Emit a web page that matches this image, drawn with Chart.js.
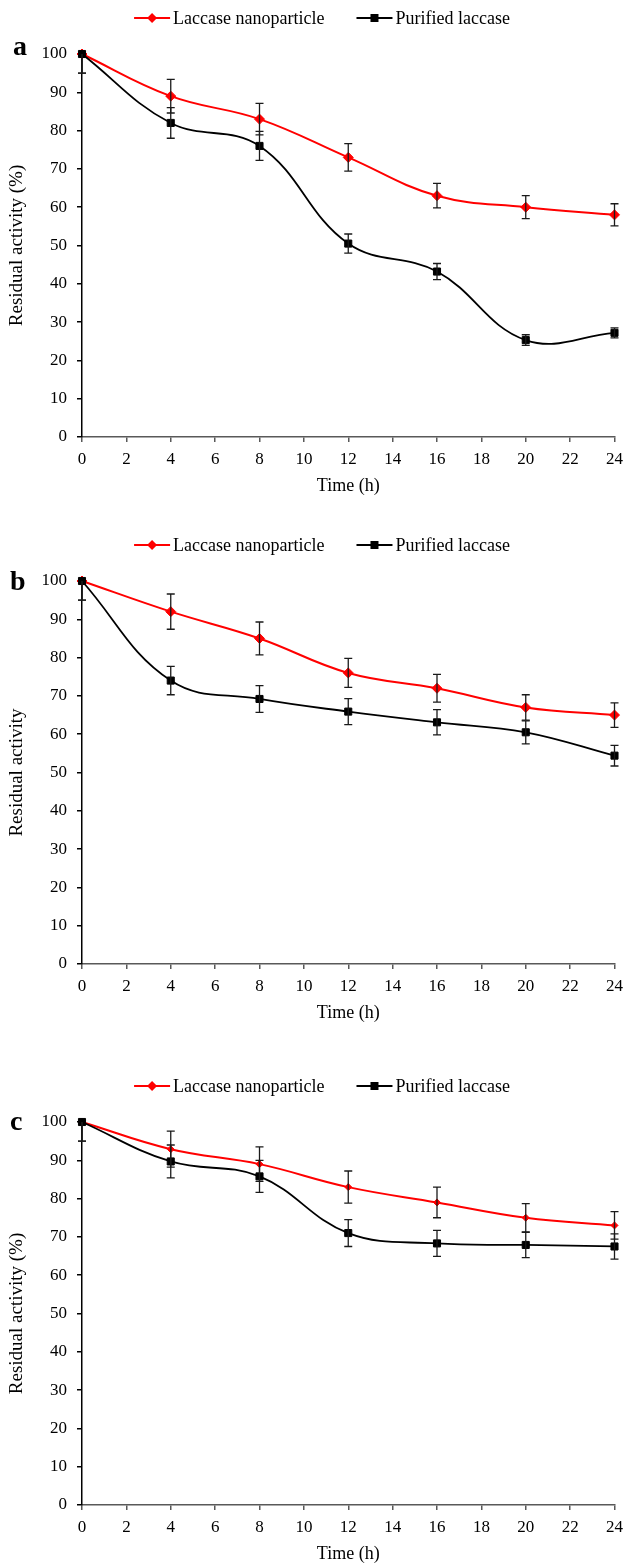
<!DOCTYPE html>
<html>
<head>
<meta charset="utf-8">
<title>Residual activity of laccase</title>
<script src="https://cdn.jsdelivr.net/npm/chart.js@4.4.1/dist/chart.umd.min.js"></script>
<style>
  html, body { margin: 0; padding: 0; background: #fff; overflow: hidden; }
  .panel { position: absolute; left: 0; width: 630px; height: 500px; }
</style>
</head>
<body>
<canvas id="chartA" class="panel" width="630" height="500" style="top:0px"></canvas>
<canvas id="chartB" class="panel" width="630" height="500" style="top:527px"></canvas>
<canvas id="chartC" class="panel" width="630" height="500" style="top:1068px"></canvas>
<script>
// data
const hours = [0, 4, 8, 12, 16, 20, 24];
const timeTicks = [0, 2, 4, 6, 8, 10, 12, 14, 16, 18, 20, 22, 24];
const activityTicks = [0, 10, 20, 30, 40, 50, 60, 70, 80, 90, 100];
const seriesNames = ["Laccase nanoparticle", "Purified laccase"];

const nanoA = [100, 89, 83, 73, 63, 60, 58];
const nanoErrA = [5, 4.4, 4.1, 3.6, 3.2, 3.0, 2.9];
const purA = [100, 82, 76, 50.5, 43.2, 25.3, 27.2];
const purErrA = [5, 4.0, 3.8, 2.5, 2.1, 1.4, 1.3];

const nanoB = [100, 92, 85, 76, 72, 67, 65];
const nanoErrB = [5, 4.6, 4.3, 3.8, 3.6, 3.3, 3.2];
const purB = [100, 74, 69.2, 65.9, 63.1, 60.5, 54.4];
const purErrB = [5, 3.7, 3.5, 3.4, 3.3, 3.0, 2.7];

const nanoC = [100, 92.9, 89, 83, 79, 75, 73];
const nanoErrC = [5, 4.7, 4.5, 4.2, 4.0, 3.7, 3.6];
const purC = [100, 89.7, 85.8, 71, 68.3, 67.9, 67.5];
const purErrC = [5, 4.3, 4.2, 3.5, 3.4, 3.3, 3.3];

const FONT = "'Liberation Serif', 'Times New Roman', serif";
const RED = "#ff0000";
const BLACK = "#000000";

// vertical error bars with caps
const errorBars = {
  id: "errorBars",
  afterDatasetsDraw(chart) {
    const { ctx, chartArea, scales } = chart;
    ctx.save();
    ctx.beginPath();
    ctx.rect(chartArea.left - 8, chartArea.top, chartArea.right - chartArea.left + 16, chartArea.bottom - chartArea.top);
    ctx.clip();
    ctx.strokeStyle = "#1a1a1a";
    ctx.lineWidth = 1.3;
    chart.data.datasets.forEach((ds, i) => {
      const meta = chart.getDatasetMeta(i);
      meta.data.forEach((pt, j) => {
        const v = ds.data[j].y;
        const e = ds.errors[j];
        const top = scales.y.getPixelForValue(v + e);
        const bot = scales.y.getPixelForValue(v - e);
        ctx.beginPath();
        ctx.moveTo(pt.x, top);
        ctx.lineTo(pt.x, bot);
        ctx.moveTo(pt.x - 4, top);
        ctx.lineTo(pt.x + 4, top);
        ctx.moveTo(pt.x - 4, bot);
        ctx.lineTo(pt.x + 4, bot);
        ctx.stroke();
      });
    });
    ctx.restore();
  },
};

// excel style legend: line with marker in the middle
const lineLegend = {
  id: "lineLegend",
  afterDraw(chart) {
    const ctx = chart.ctx;
    const y = 18;
    const lineLen = 36, gap = 3, spacing = 32;
    ctx.save();
    ctx.font = "18px " + FONT;
    ctx.textBaseline = "middle";
    const items = chart.data.datasets.map((ds) => ({ ds, w: ctx.measureText(ds.label).width }));
    const total = items.reduce((s, it) => s + lineLen + gap + it.w, 0) + spacing * (items.length - 1);
    let x = 322 - total / 2;
    items.forEach(({ ds, w }) => {
      ctx.strokeStyle = ds.borderColor;
      ctx.lineWidth = ds.borderWidth;
      ctx.beginPath();
      ctx.moveTo(x, y);
      ctx.lineTo(x + lineLen, y);
      ctx.stroke();
      const cx = x + lineLen / 2;
      ctx.fillStyle = ds.borderColor;
      ctx.beginPath();
      if (ds.pointStyle === "rectRot") {
        const r = 5;
        ctx.moveTo(cx, y - r);
        ctx.lineTo(cx + r, y);
        ctx.lineTo(cx, y + r);
        ctx.lineTo(cx - r, y);
        ctx.closePath();
      } else {
        ctx.rect(cx - 4, y - 4, 8, 8);
      }
      ctx.fill();
      ctx.fillStyle = "#000";
      ctx.fillText(ds.label, x + lineLen + gap, y + 1);
      x += lineLen + gap + w + spacing;
    });
    ctx.restore();
  },
};

// bold panel letter
const panelLetter = {
  id: "panelLetter",
  afterDraw(chart, args, opts) {
    const ctx = chart.ctx;
    ctx.save();
    ctx.font = "bold 28px " + FONT;
    ctx.fillStyle = "#000";
    ctx.textBaseline = "alphabetic";
    ctx.fillText(opts.text, opts.x, opts.y);
    ctx.restore();
  },
};

const toPoints = (vals) => hours.map((h, i) => ({ x: h, y: vals[i] }));

const makeChart = (id, nano, nanoErr, pur, purErr, yTitle, letter, nanoRadius) => {
  const tickFont = { family: FONT, size: 17 };
  return new Chart(document.getElementById(id), {
    type: "line",
    data: {
      datasets: [
        {
          label: seriesNames[0],
          data: toPoints(nano),
          errors: nanoErr,
          borderColor: RED,
          backgroundColor: RED,
          borderWidth: 2,
          pointStyle: "rectRot",
          pointRadius: nanoRadius,
          pointBorderWidth: 1,
          tension: 0.4,
          clip: false,
          order: 2,
        },
        {
          label: seriesNames[1],
          data: toPoints(pur),
          errors: purErr,
          borderColor: BLACK,
          backgroundColor: BLACK,
          borderWidth: 1.8,
          pointStyle: "rect",
          pointRadius: 5,
          pointBorderWidth: 1,
          tension: 0.4,
          clip: false,
          order: 1,
        },
      ],
    },
    options: {
      responsive: false,
      animation: false,
      devicePixelRatio: 1,
      layout: { padding: { top: 54, right: 11, bottom: 3, left: 0 } },
      plugins: {
        legend: { display: false },
        tooltip: { enabled: false },
        panelLetter: letter,
      },
      scales: {
        x: {
          type: "linear",
          min: 0,
          max: 24,
          afterBuildTicks: (s) => {
            s.ticks = timeTicks.map((v) => ({ value: v }));
          },
          afterFit: (s) => {
            s.height = 60;
          },
          ticks: { font: tickFont, color: "#000", padding: 7, maxRotation: 0, autoSkip: false },
          grid: { display: true, drawOnChartArea: false, drawTicks: true, tickLength: 5, color: "#595959", lineWidth: 1.5 },
          border: { display: true, color: "#595959", width: 1.5 },
          title: { display: true, text: "Time (h)", font: { family: FONT, size: 18 }, color: "#000", padding: { top: 0, bottom: 0 } },
        },
        y: {
          min: 0,
          max: 100,
          afterBuildTicks: (s) => {
            s.ticks = activityTicks.map((v) => ({ value: v }));
          },
          afterFit: (s) => {
            s.width = 82;
          },
          ticks: { font: tickFont, color: "#000", padding: 10 },
          grid: { display: true, drawOnChartArea: false, drawTicks: true, tickLength: 5, color: "#000", lineWidth: 1.5 },
          border: { display: true, color: "#000", width: 1.5 },
          title: { display: true, text: yTitle, font: { family: FONT, size: 19 }, color: "#000", padding: { top: 6, bottom: 0 } },
        },
      },
    },
    plugins: [errorBars, lineLegend, panelLetter],
  });
};

makeChart("chartA", nanoA, nanoErrA, purA, purErrA, "Residual activity (%)", { text: "a", x: 13, y: 55 }, 5);
makeChart("chartB", nanoB, nanoErrB, purB, purErrB, "Residual activity", { text: "b", x: 10, y: 63 }, 5);
makeChart("chartC", nanoC, nanoErrC, purC, purErrC, "Residual activity (%)", { text: "c", x: 10, y: 62 }, 3.5);
</script>
</body>
</html>
